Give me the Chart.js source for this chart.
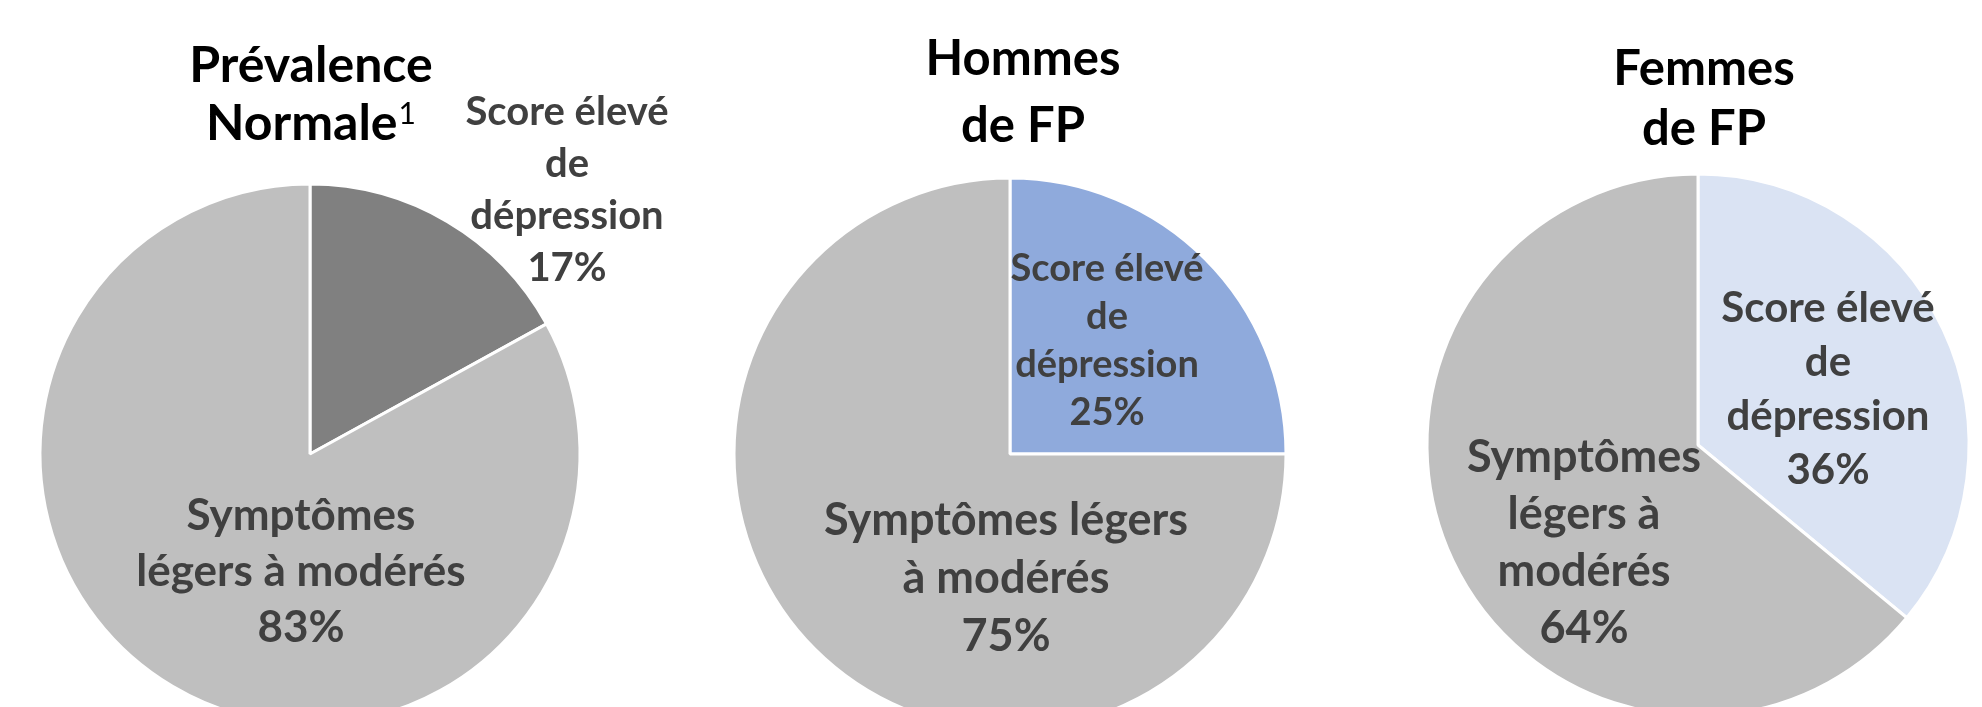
<!DOCTYPE html>
<html>
<head>
<meta charset="utf-8">
<script src="https://cdn.jsdelivr.net/npm/chart.js@4.4.1/dist/chart.umd.min.js"></script>
<style>
  html, body { margin: 0; padding: 0; background: #fff; overflow: hidden; }
  body { width: 1982px; height: 707px; position: relative; }
  canvas { position: absolute; top: 0; }
</style>
</head>
<body>
<canvas id="pie1"></canvas>
<canvas id="pie2"></canvas>
<canvas id="pie3"></canvas>
<script>
// data
const categories = ['Score élevé de dépression', 'Symptômes légers à modérés'];
const normaleValues = [17, 83];
const hommesValues = [25, 75];
const femmesValues = [36, 64];

const BORDER = 3;
const CANVAS_H = 760; // taller than the window, bottom of the pies gets cut off like the original

// one entry per pie: where it sits and how its texts are laid out
const pies = [
  {
    id: 'pie1', values: normaleValues, colors: ['#808080', '#bfbfbf'],
    left: 0, width: 700, cx: 310, cy: 454, r: 270,
    title: { lines: ['Prévalence', 'Normale'], sup: '1', size: 50, lh: 58, dx: 1, dy: -359 },
    labels: [
      { lines: ['Score élevé', 'de', 'dépression'], size: 40, lh: 52, dx: 257, dy: -264 },
      { lines: ['Symptômes', 'légers à modérés'], size: 44, lh: 56, dx: -9, dy: 118 }
    ]
  },
  {
    id: 'pie2', values: hommesValues, colors: ['#8faadc', '#bfbfbf'],
    left: 700, width: 650, cx: 1010, cy: 454, r: 276,
    title: { lines: ['Hommes', 'de FP'], size: 49, lh: 67, dx: 13, dy: -361 },
    labels: [
      { lines: ['Score élevé', 'de', 'dépression'], size: 38, lh: 48, dx: 97, dy: -113 },
      { lines: ['Symptômes légers', 'à modérés'], size: 45, lh: 58, dx: -4, dy: 124 }
    ]
  },
  {
    id: 'pie3', values: femmesValues, colors: ['#dae3f3', '#bfbfbf'],
    left: 1350, width: 632, cx: 1698, cy: 445, r: 271,
    title: { lines: ['Femmes', 'de FP'], size: 49, lh: 60, dx: 6, dy: -346 },
    labels: [
      { lines: ['Score élevé', 'de', 'dépression'], size: 42, lh: 54, dx: 130, dy: -56 },
      { lines: ['Symptômes', 'légers à', 'modérés'], size: 45, lh: 57, dx: -114, dy: 98 }
    ]
  }
];

const FONT = 'Lato, "Open Sans", sans-serif';

// draws the title and the slice labels around the arcs
const pieText = {
  id: 'pieText',
  afterDatasetsDraw(chart, args, opts) {
    const ctx = chart.ctx;
    const meta = chart.getDatasetMeta(0);
    const { x, y } = meta.data[0].getProps(['x', 'y'], true);
    const values = chart.data.datasets[0].data;
    ctx.save();
    ctx.textAlign = 'center';
    ctx.textBaseline = 'middle';

    opts.labels.forEach((lab, i) => {
      const lines = lab.lines.concat([values[i] + '%']);
      ctx.font = 'bold ' + lab.size + 'px ' + FONT;
      ctx.fillStyle = '#404040';
      lines.forEach((t, k) => {
        ctx.fillText(t, x + lab.dx, y + lab.dy + (k - (lines.length - 1) / 2) * lab.lh);
      });
    });

    const tt = opts.title;
    ctx.fillStyle = '#000';
    tt.lines.forEach((t, k) => {
      const ty = y + tt.dy + (k - (tt.lines.length - 1) / 2) * tt.lh;
      const last = k === tt.lines.length - 1;
      ctx.font = 'bold ' + tt.size + 'px ' + FONT;
      if (last && tt.sup) {
        const w = ctx.measureText(t).width;
        ctx.font = (tt.size * 0.6) + 'px ' + FONT;
        const ws = ctx.measureText(tt.sup).width + 1;
        const start = x + tt.dx - (w + ws) / 2;
        ctx.textAlign = 'left';
        ctx.fillText(tt.sup, start + w + 1, ty - tt.size * 0.2);
        ctx.font = 'bold ' + tt.size + 'px ' + FONT;
        ctx.fillText(t, start, ty);
        ctx.textAlign = 'center';
      } else {
        ctx.fillText(t, x + tt.dx, ty);
      }
    });
    ctx.restore();
  }
};

pies.forEach(p => {
  const canvas = document.getElementById(p.id);
  canvas.width = p.width;
  canvas.height = CANVAS_H;
  canvas.style.left = p.left + 'px';
  const half = p.r + BORDER / 2;
  const lx = p.cx - p.left;
  new Chart(canvas.getContext('2d'), {
    type: 'pie',
    data: {
      labels: categories,
      datasets: [{
        data: p.values,
        backgroundColor: p.colors,
        borderColor: '#ffffff',
        borderWidth: BORDER
      }]
    },
    options: {
      responsive: false,
      animation: false,
      events: [],
      layout: {
        padding: {
          left: lx - half,
          right: p.width - lx - half,
          top: p.cy - half,
          bottom: CANVAS_H - p.cy - half
        }
      },
      plugins: {
        legend: { display: false },
        tooltip: { enabled: false },
        pieText: { title: p.title, labels: p.labels }
      }
    },
    plugins: [pieText]
  });
});
</script>
</body>
</html>
